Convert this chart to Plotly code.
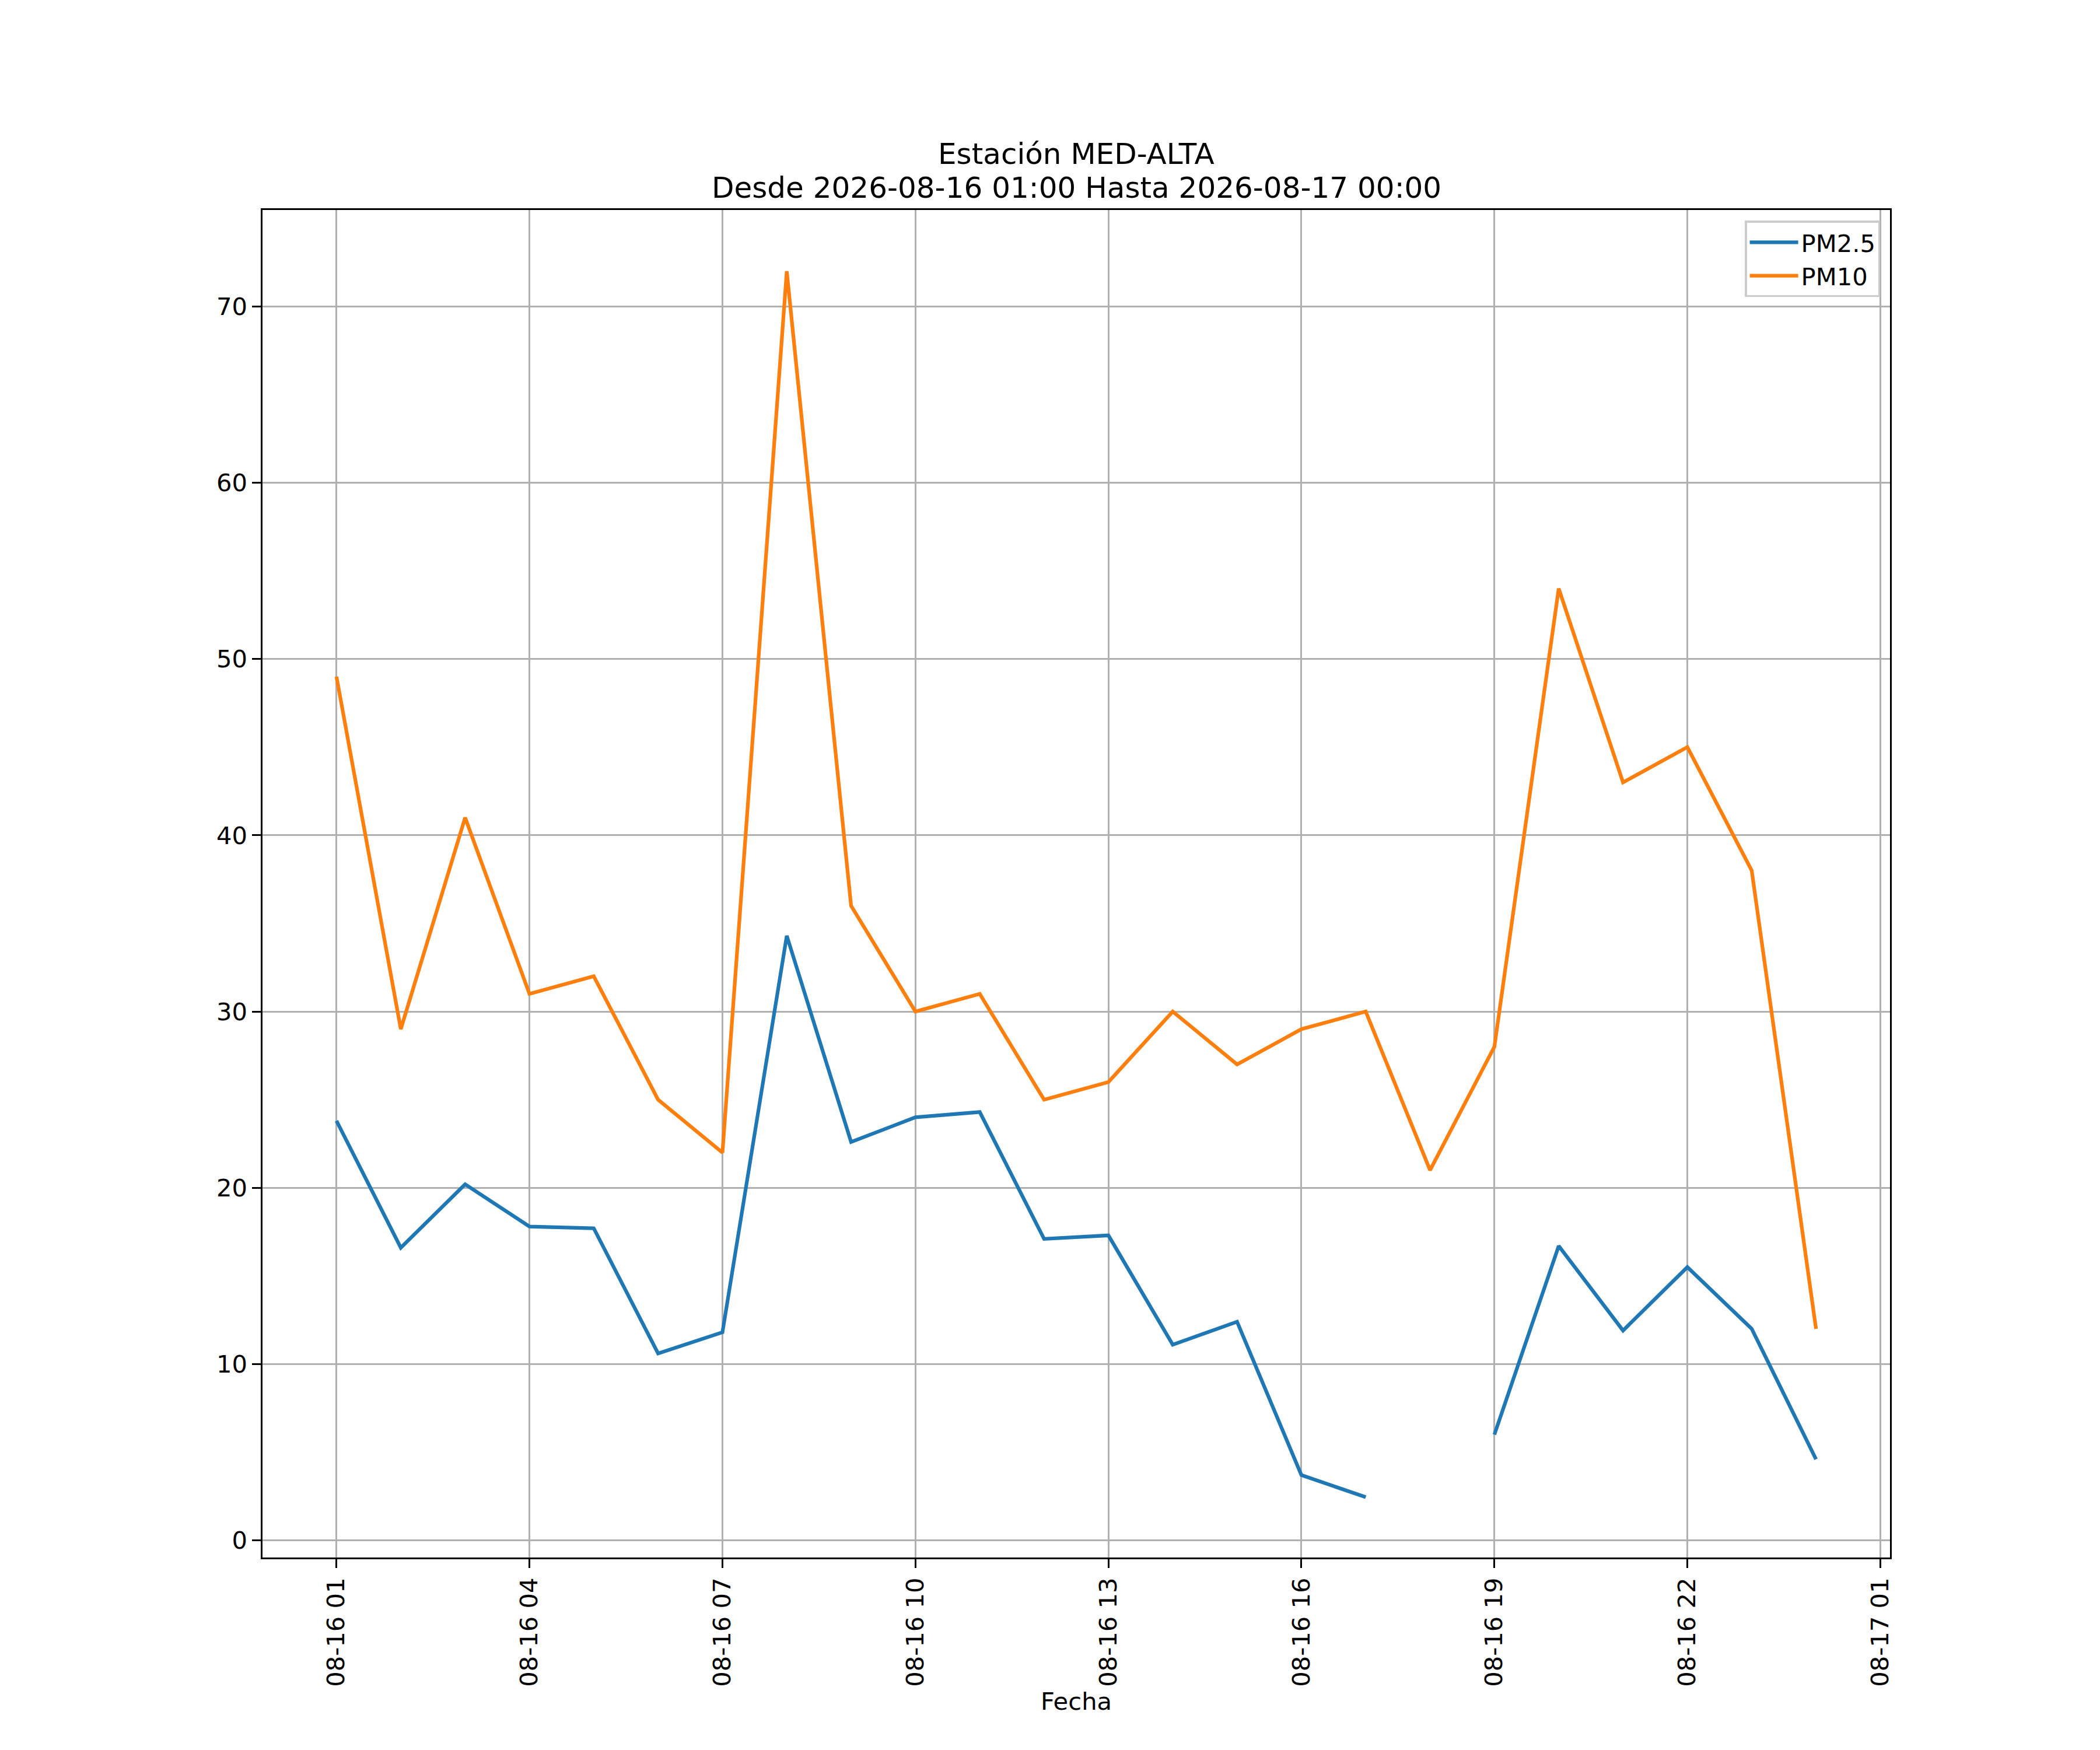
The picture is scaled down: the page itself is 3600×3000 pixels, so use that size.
import plotly.graph_objects as go

# Hourly readings, station MED-ALTA
fechas = [
    "2026-08-16 01:00", "2026-08-16 02:00", "2026-08-16 03:00", "2026-08-16 04:00",
    "2026-08-16 05:00", "2026-08-16 06:00", "2026-08-16 07:00", "2026-08-16 08:00",
    "2026-08-16 09:00", "2026-08-16 10:00", "2026-08-16 11:00", "2026-08-16 12:00",
    "2026-08-16 13:00", "2026-08-16 14:00", "2026-08-16 15:00", "2026-08-16 16:00",
    "2026-08-16 17:00", "2026-08-16 18:00", "2026-08-16 19:00", "2026-08-16 20:00",
    "2026-08-16 21:00", "2026-08-16 22:00", "2026-08-16 23:00", "2026-08-17 00:00",
]
pm25 = [23.8, 16.6, 20.2, 17.8, 17.7, 10.6, 11.8, 34.3, 22.6, 24.0, 24.3, 17.1,
        17.3, 11.1, 12.4, 3.7, 2.45, None, 6.0, 16.7, 11.9, 15.5, 12.0, 4.6]
pm10 = [49, 29, 41, 31, 32, 25, 22, 72, 36, 30, 31, 25,
        26, 30, 27, 29, 30, 21, 28, 54, 43, 45, 38, 12]

tick_fechas = ["2026-08-16 01:00", "2026-08-16 04:00", "2026-08-16 07:00",
               "2026-08-16 10:00", "2026-08-16 13:00", "2026-08-16 16:00",
               "2026-08-16 19:00", "2026-08-16 22:00", "2026-08-17 01:00"]
tick_labels = ["08-16 01", "08-16 04", "08-16 07", "08-16 10", "08-16 13",
               "08-16 16", "08-16 19", "08-16 22", "08-17 01"]
y_ticks = [0, 10, 20, 30, 40, 50, 60, 70]

titulo = ["Estación MED-ALTA", "Desde 2026-08-16 01:00 Hasta 2026-08-17 00:00"]

FONT = "DejaVu Sans"
PT = 300 / 72  # px per point at 300 dpi

fig = go.Figure()
fig.add_trace(go.Scatter(x=fechas, y=pm25, mode="lines", name="PM2.5",
                         line=dict(color="#1f77b4", width=1.5 * PT),
                         connectgaps=False))
fig.add_trace(go.Scatter(x=fechas, y=pm10, mode="lines", name="PM10",
                         line=dict(color="#ff7f0e", width=1.5 * PT)))

axis_common = dict(
    showline=True, linecolor="black", linewidth=0.8 * PT, mirror=True,
    ticks="outside", ticklen=3.5 * PT, tickwidth=0.8 * PT, tickcolor="black",
    showgrid=True, gridcolor="#b0b0b0", gridwidth=0.8 * PT,
    zeroline=False,
    tickfont=dict(family=FONT, size=10 * PT, color="black"),
)

fig.update_xaxes(
    type="date",
    range=["2026-08-15 23:51", "2026-08-17 01:09"],
    tickvals=tick_fechas, ticktext=tick_labels, tickangle=-90,
    title=dict(text="Fecha", font=dict(family=FONT, size=10 * PT, color="black"),
               standoff=12),
    **axis_common,
)
fig.update_yaxes(
    range=[-0.975, 75.475],
    tickvals=y_ticks,
    **axis_common,
)

# two-line title as annotations (matplotlib style: centred over the axes)
plot_top, plot_h = 360, 2310
for texto, y_px in zip(titulo, [264, 322]):
    fig.add_annotation(
        text=texto, xref="paper", yref="paper",
        x=0.5, y=(plot_top + plot_h - y_px) / plot_h,
        xanchor="center", yanchor="middle", showarrow=False,
        font=dict(family=FONT, size=12 * PT, color="black"),
    )

fig.update_layout(
    width=3600, height=3000,
    margin=dict(l=450, r=360, t=360, b=330),
    paper_bgcolor="white", plot_bgcolor="white",
    font=dict(family=FONT, size=10 * PT, color="black"),
    legend=dict(
        x=0.994, y=0.992, xanchor="right", yanchor="top",
        bgcolor="white", bordercolor="#cccccc", borderwidth=0.8 * PT,
        font=dict(family=FONT, size=10 * PT, color="black"),
        itemwidth=83,
    ),
    showlegend=True,
)

fig.write_html("out.html", config={"displayModeBar": False},
               post_script="document.body.style.margin='0';")
